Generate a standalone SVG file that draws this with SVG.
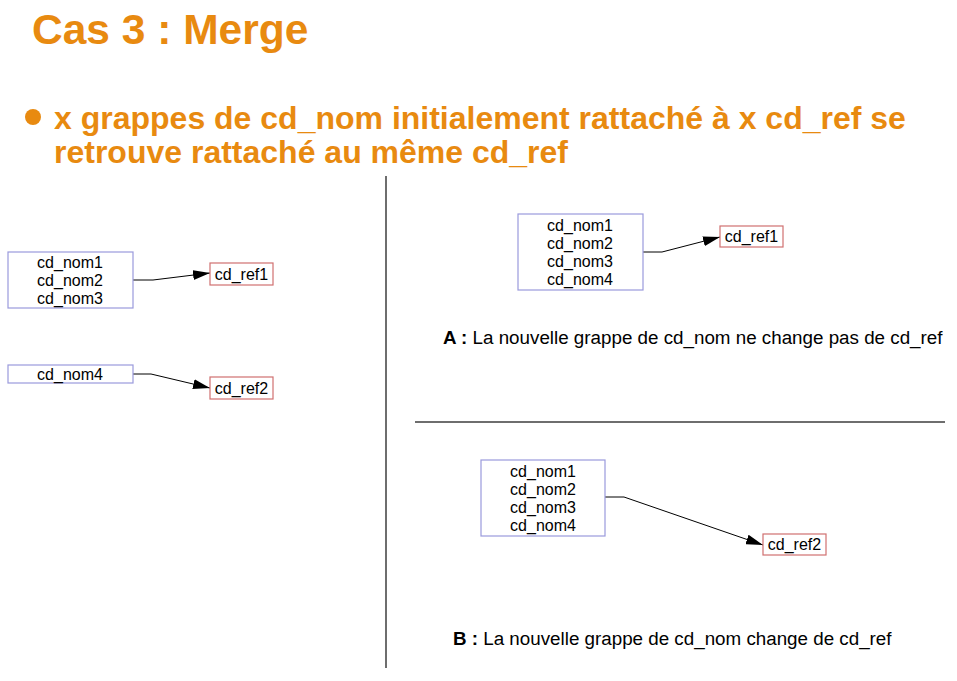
<svg xmlns="http://www.w3.org/2000/svg" width="957" height="681" viewBox="0 0 957 681">
  <style>
    .title { font-family: "Liberation Sans", Arial, sans-serif; font-weight: bold; fill: #E88A10; }
    .lbl { font-family: "Liberation Sans", Arial, sans-serif; font-size: 16px; fill: #000; text-anchor: middle; }
    .cap { font-family: "Liberation Sans", Arial, sans-serif; font-size: 18.8px; fill: #000; }
    .nom { fill: #fff; stroke: #9A9ADC; stroke-width: 1.2; }
    .ref { fill: #fff; stroke: #D07070; stroke-width: 1.2; }
    .sep { stroke: #6E6E6E; stroke-width: 2; fill: none; }
    .edge { stroke: #000; stroke-width: 1; fill: none; marker-end: url(#arrow); }
  </style>
  <defs>
    <marker id="arrow" markerUnits="userSpaceOnUse" markerWidth="17" markerHeight="10" refX="17" refY="5" orient="auto">
      <path d="M0,0 L17,5 L0,10 Z" fill="#000"/>
    </marker>
  </defs>
  <rect width="957" height="681" fill="#fff"/>

  <!-- heading -->
  <text class="title" x="32" y="44" font-size="42.5">Cas 3 : Merge</text>
  <circle cx="33" cy="117" r="8" fill="#E88A10"/>
  <text class="title" x="54" y="129" font-size="32">x grappes de cd_nom initialement rattaché à x cd_ref se</text>
  <text class="title" x="54" y="163" font-size="32">retrouve rattaché au même cd_ref</text>

  <!-- separators -->
  <line class="sep" x1="386" y1="176" x2="386" y2="668"/>
  <line class="sep" x1="415" y1="422" x2="945" y2="422"/>

  <!-- connectors -->
  <g id="connectors">
    <path class="edge" d="M133,280 L153,280 L210,273"/>
    <path class="edge" d="M133,374 L151,374 L210,388"/>
    <path class="edge" d="M643,252 L662,252 L720,237"/>
    <path class="edge" d="M605,497 L624,497 L763,545"/>
  </g>

  <!-- before: left panel -->
  <g id="nom123">
    <rect class="nom" x="8" y="252" width="125" height="56"/>
    <text class="lbl" x="70" y="268">cd_nom1</text>
    <text class="lbl" x="70" y="286">cd_nom2</text>
    <text class="lbl" x="70" y="304">cd_nom3</text>
  </g>
  <g id="ref1_left">
    <rect class="ref" x="210" y="263" width="63" height="22"/>
    <text class="lbl" x="241.5" y="279.5">cd_ref1</text>
  </g>
  <g id="nom4">
    <rect class="nom" x="8" y="365" width="125" height="18"/>
    <text class="lbl" x="70" y="380">cd_nom4</text>
  </g>
  <g id="ref2_left">
    <rect class="ref" x="210" y="377" width="63" height="22"/>
    <text class="lbl" x="241.5" y="393.5">cd_ref2</text>
  </g>

  <!-- case A -->
  <g id="nomA">
    <rect class="nom" x="518" y="214" width="125" height="76"/>
    <text class="lbl" x="580" y="231">cd_nom1</text>
    <text class="lbl" x="580" y="249">cd_nom2</text>
    <text class="lbl" x="580" y="267">cd_nom3</text>
    <text class="lbl" x="580" y="285">cd_nom4</text>
  </g>
  <g id="refA">
    <rect class="ref" x="720" y="226" width="63" height="21"/>
    <text class="lbl" x="751.5" y="242">cd_ref1</text>
  </g>
  <text class="cap" x="443" y="344"><tspan font-weight="bold">A :</tspan> La nouvelle grappe de cd_nom ne change pas de cd_ref</text>

  <!-- case B -->
  <g id="nomB">
    <rect class="nom" x="481" y="460" width="124" height="76"/>
    <text class="lbl" x="543" y="477">cd_nom1</text>
    <text class="lbl" x="543" y="495">cd_nom2</text>
    <text class="lbl" x="543" y="513">cd_nom3</text>
    <text class="lbl" x="543" y="531">cd_nom4</text>
  </g>
  <g id="refB">
    <rect class="ref" x="763" y="534" width="63" height="21"/>
    <text class="lbl" x="794.5" y="550">cd_ref2</text>
  </g>
  <text class="cap" x="453" y="645"><tspan font-weight="bold">B :</tspan> La nouvelle grappe de cd_nom change de cd_ref</text>
</svg>
